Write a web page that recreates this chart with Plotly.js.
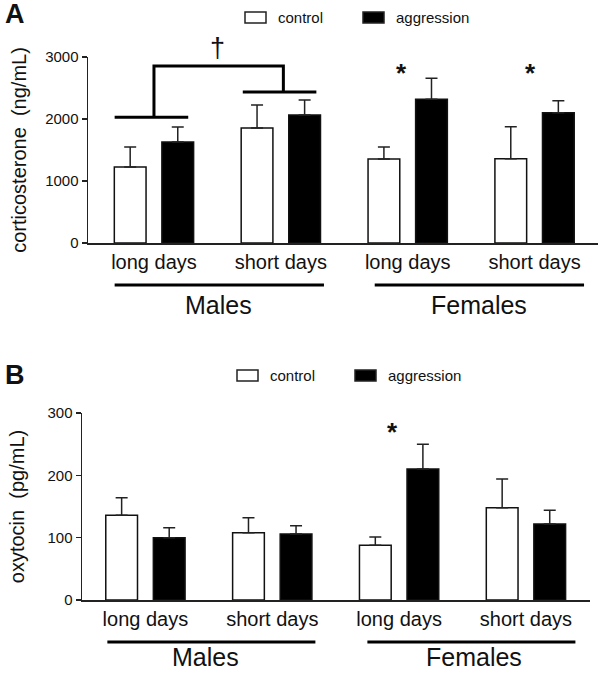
<!DOCTYPE html>
<html>
<head>
<meta charset="utf-8">
<script src="https://cdn.plot.ly/plotly-3.0.1.min.js"></script>
<style>body{margin:0;background:#fff}</style>
</head>
<body>
<div id="chart" style="width:602px;height:673px"></div>
<script>
// groups on the x axis (long/short days for males, then females)
var groups = [0, 1, 2, 3];
var group_labels = ['long days', 'short days', 'long days', 'short days'];
var sex_labels = ['Males', 'Females'];
var series_names = ['control', 'aggression'];

// panel A: corticosterone (ng/mL), upper error only
var cort_control = [1225, 1855, 1355, 1360];
var cort_control_err = [325, 370, 195, 515];
var cort_aggr = [1630, 2065, 2320, 2100];
var cort_aggr_err = [242, 241, 338, 193];

// panel B: oxytocin (pg/mL)
var oxy_control = [136, 108, 88, 148];
var oxy_control_err = [28, 24, 13, 46];
var oxy_aggr = [100, 106, 210, 122];
var oxy_aggr_err = [16, 13, 40, 22];

var FONT = 'Arial, "Liberation Sans", sans-serif';
var INK = '#111';
var FILLS = ['#fff', '#000'];

function get_trace_bar(arr_x, arr_y, arr_err, name, fill, xaxis, yaxis){
	var zeros = arr_y.map(function(_) { return 0; });
	return {
		x: arr_x,
		y: arr_y,
		type: 'bar',
		name: name,
		xaxis: xaxis,
		yaxis: yaxis,
		showlegend: false,
		marker: {color: fill, line: {color: INK, width: 1.5}},
		error_y: {
			type: 'data',
			symmetric: false,
			array: arr_err,
			arrayminus: zeros,
			color: '#222',
			thickness: 1.5,
			width: 6
		},
		hoverinfo: 'y'
	};
}

var data = [
	get_trace_bar(groups, cort_control, cort_control_err, series_names[0], FILLS[0], 'x', 'y'),
	get_trace_bar(groups, cort_aggr, cort_aggr_err, series_names[1], FILLS[1], 'x', 'y'),
	get_trace_bar(groups, oxy_control, oxy_control_err, series_names[0], FILLS[0], 'x2', 'y2'),
	get_trace_bar(groups, oxy_aggr, oxy_aggr_err, series_names[1], FILLS[1], 'x2', 'y2')
];

function x_axis(domain, range, anchor){
	return {
		domain: domain, range: range, anchor: anchor,
		tickmode: 'array', tickvals: groups, ticktext: group_labels,
		ticks: '', showline: true, linecolor: '#222', linewidth: 1.5,
		showgrid: false, zeroline: false, fixedrange: true,
		tickfont: {family: FONT, size: 20, color: INK}
	};
}

function y_axis(domain, range, tickvals, title, standoff, anchor){
	return {
		domain: domain, range: range, anchor: anchor,
		tickmode: 'array', tickvals: tickvals,
		ticks: 'outside', ticklen: 5, tickwidth: 1.5, tickcolor: '#222',
		showline: true, linecolor: '#222', linewidth: 1.5,
		showgrid: false, zeroline: false, fixedrange: true,
		tickfont: {family: FONT, size: 15, color: INK},
		title: {text: title, font: {family: FONT, size: 20, color: INK}, standoff: standoff}
	};
}

function line_shape(xref, yref, x0, y0, x1, y1){
	return {type: 'line', xref: xref, yref: yref, x0: x0, y0: y0, x1: x1, y1: y1,
		line: {color: '#000', width: 3}};
}

function text_note(xref, yref, x, y, text, size, xanchor, yanchor){
	return {xref: xref, yref: yref, x: x, y: y, text: text,
		xanchor: xanchor || 'center', yanchor: yanchor || 'middle',
		showarrow: false, font: {family: FONT, size: size, color: INK}};
}

// pixel helpers for paper coordinates
function px(x){ return x / 602; }
function py(y){ return 1 - y / 673; }

var shapes = [
	// sex underlines
	line_shape('x', 'paper', -0.31, py(285), 1.34, py(285)),
	line_shape('x', 'paper', 1.74, py(285), 3.39, py(285)),
	line_shape('x2', 'paper', -0.30, py(642), 1.34, py(642)),
	line_shape('x2', 'paper', 1.75, py(642), 3.39, py(642)),
	// dagger bracket, males long vs short days
	line_shape('x', 'y', -0.31, 2030, 0.27, 2030),
	line_shape('x', 'y', 0.70, 2435, 1.28, 2435),
	{type: 'path', xref: 'x', yref: 'y', path: 'M0,2030 L0,2855 L1.02,2855 L1.02,2435',
		line: {color: '#000', width: 3}}
];

var annotations = [
	text_note('paper', 'paper', px(3), py(14), '<b>A</b>', 27, 'left'),
	text_note('paper', 'paper', px(3), py(375), '<b>B</b>', 27, 'left'),
	text_note('x', 'paper', 0.51, py(305), sex_labels[0], 25),
	text_note('x', 'paper', 2.56, py(305), sex_labels[1], 25),
	text_note('x2', 'paper', 0.47, py(673), sex_labels[0], 25, 'center', 'bottom'),
	text_note('x2', 'paper', 2.59, py(673), sex_labels[1], 25, 'center', 'bottom'),
	text_note('x', 'paper', 0.5, py(48), '†', 27),
	text_note('x', 'y', 1.95, 2740, '<b>*</b>', 26),
	text_note('x', 'y', 2.97, 2740, '<b>*</b>', 26),
	text_note('x2', 'y2', 1.95, 270, '<b>*</b>', 26)
];

// hand-drawn legends (wide boxes like the original)
function add_legend(box_x, box_y, step){
	for(var i in series_names){
		var x0 = box_x + i * step;
		shapes.push({type: 'rect', xref: 'paper', yref: 'paper',
			x0: px(x0), x1: px(x0 + 21), y0: py(box_y), y1: py(box_y + 11),
			fillcolor: FILLS[i], line: {color: '#222', width: 1.5}});
		annotations.push(text_note('paper', 'paper', px(x0 + 31), py(box_y + 5.5), series_names[i], 15, 'left'));
	}
}
add_legend(245, 12, 118);
add_legend(237, 370, 118);

var layout = {
	width: 602,
	height: 673,
	autosize: false,
	margin: {l: 0, r: 0, t: 0, b: 0},
	paper_bgcolor: '#fff',
	plot_bgcolor: '#fff',
	barmode: 'group',
	bargap: 0.25,
	bargroupgap: 0.333,
	showlegend: false,
	xaxis: x_axis([px(88), px(598)], [-0.52, 3.5], 'y'),
	yaxis: y_axis([py(243), py(57)], [0, 3000], [0, 1000, 2000, 3000], 'corticosterone  (ng/mL)', 13, 'x'),
	xaxis2: x_axis([px(82), px(590)], [-0.5, 3.505], 'y2'),
	yaxis2: y_axis([py(600), py(413)], [0, 300], [0, 100, 200, 300], 'oxytocin  (pg/mL)', 17, 'x2'),
	shapes: shapes,
	annotations: annotations
};

Plotly.newPlot('chart', data, layout, {displayModeBar: false, staticPlot: true});
</script>
</body>
</html>
